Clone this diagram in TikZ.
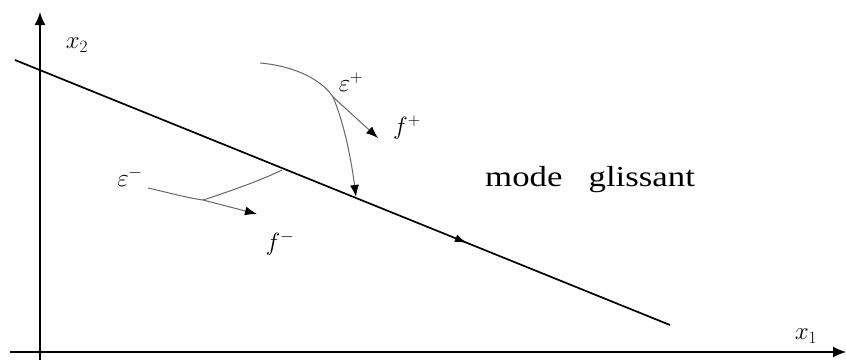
\documentclass[tikz,border=0pt]{standalone}
\usepackage{fontspec}
\setmainfont{Liberation Serif}
\usetikzlibrary{arrows.meta,decorations.markings}
\begin{document}
\begin{tikzpicture}[x=1pt,y=-1pt,
  axis/.style={line width=1.5pt,-{Latex[length=13pt,width=11pt]}},
  sline/.style={line width=1.7pt,
    postaction={decorate},
    decoration={markings,mark=at position 0.69 with {\arrow{Latex[length=12pt,width=8pt]}}}},
  traj/.style={line width=1pt,black!60},
  tip/.style={-{Latex[length=12pt,width=9pt,black]},line width=1pt},
  lbl/.style={inner sep=0pt,font=\fontsize{25}{29}\selectfont},
  txt/.style={inner sep=0pt,anchor=base west,font=\fontsize{29}{34}\selectfont}]
\useasboundingbox (0,0) rectangle (846,360);
% axes
\coordinate (ybot) at (40,360);
\coordinate (ytop) at (40,12);
\coordinate (xl) at (10,352);
\coordinate (xr) at (846,352);
\draw[axis] (ybot) -- (ytop);
\draw[axis] (xl) -- (xr);
\node[lbl] (x2) at (77,45) {$x_2$};
\node[lbl] (x1) at (806,336) {$x_1$};
% sliding line
\coordinate (s0) at (15,60);
\coordinate (s1) at (670,325);
\draw[sline] (s0) -- (s1);
% upper trajectory
\coordinate (a0) at (260,63);
\coordinate (a1) at (333,97);
\coordinate (atip) at (378,138);
\coordinate (ahit) at (356,197);
\draw[traj] (a0) .. controls (295,66) and (322,80) .. (a1);
\draw[traj,tip] (a1) -- (atip);
\draw[traj,tip] (a1) .. controls (345,125) and (352,165) .. (ahit);
\node[lbl] (ep) at (351,82) {$\varepsilon^{+}$};
\node[lbl] (fp) at (407,128) {$f^{+}$};
% lower trajectory
\coordinate (b0) at (148,188);
\coordinate (b1) at (203,200);
\coordinate (btip) at (257,214);
\coordinate (bhit) at (282,170);
\draw[traj] (b0) .. controls (170,193) and (188,198) .. (b1);
\draw[traj,tip] (b1) -- (btip);
\draw[traj] (b1) .. controls (225,193) and (262,180) .. (bhit);
\node[lbl] (em) at (130,177) {$\varepsilon^{-}$};
\node[lbl] (fm) at (280,243) {$f^{-}$};
% label
\node[txt] (mode) at (485,186) {\scalebox{1.2}[1]{mode\hspace{0.75em}glissant}};
\end{tikzpicture}
\end{document}
